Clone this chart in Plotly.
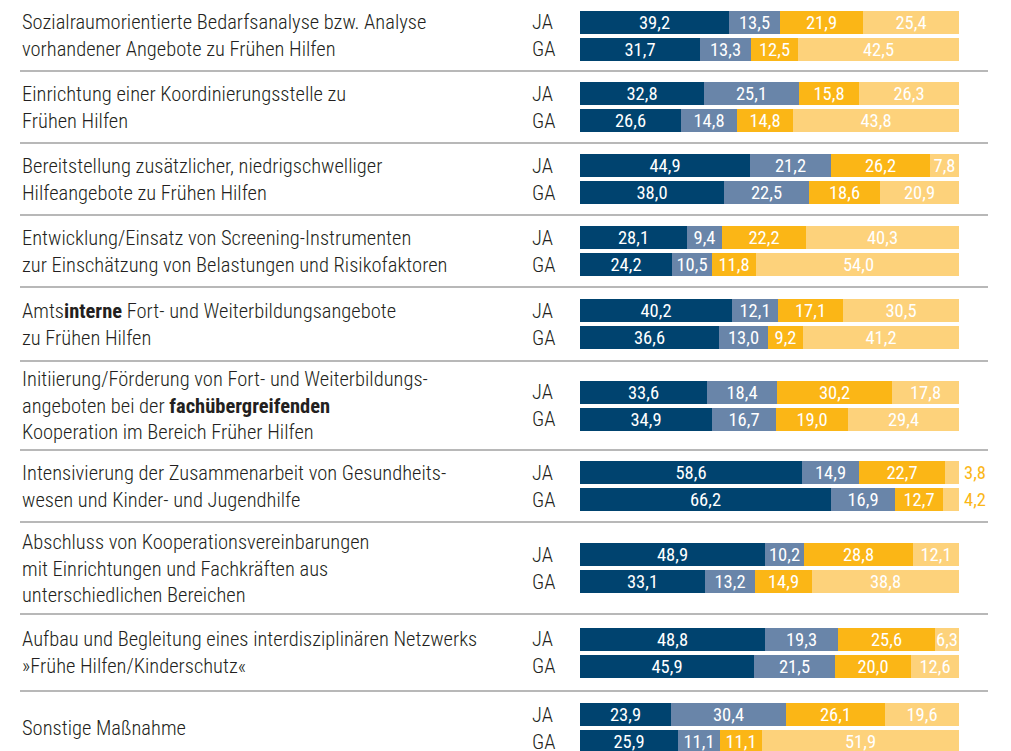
import plotly.graph_objects as go

# ---------------- data ----------------
categories = [
    "Sozialraumorientierte Bedarfsanalyse bzw. Analyse<br>vorhandener Angebote zu Frühen Hilfen",
    "Einrichtung einer Koordinierungsstelle zu<br>Frühen Hilfen",
    "Bereitstellung zusätzlicher, niedrigschwelliger<br>Hilfeangebote zu Frühen Hilfen",
    "Entwicklung/Einsatz von Screening-Instrumenten<br>zur Einschätzung von Belastungen und Risikofaktoren",
    "Amts<b>interne</b> Fort- und Weiterbildungsangebote<br>zu Frühen Hilfen",
    "Initiierung/Förderung von Fort- und Weiterbildungs-<br>angeboten bei der <b>fachübergreifenden</b><br>Kooperation im Bereich Früher Hilfen",
    "Intensivierung der Zusammenarbeit von Gesundheits-<br>wesen und Kinder- und Jugendhilfe",
    "Abschluss von Kooperationsvereinbarungen<br>mit Einrichtungen und Fachkräften aus<br>unterschiedlichen Bereichen",
    "Aufbau und Begleitung eines interdisziplinären Netzwerks<br>»Frühe Hilfen/Kinderschutz«",
    "Sonstige Maßnahme",
]
groups = ["JA", "GA"]

ja_s1 = [39.2, 32.8, 44.9, 28.1, 40.2, 33.6, 58.6, 48.9, 48.8, 23.9]
ja_s2 = [13.5, 25.1, 21.2, 9.4, 12.1, 18.4, 14.9, 10.2, 19.3, 30.4]
ja_s3 = [21.9, 15.8, 26.2, 22.2, 17.1, 30.2, 22.7, 28.8, 25.6, 26.1]
ja_s4 = [25.4, 26.3, 7.8, 40.3, 30.5, 17.8, 3.8, 12.1, 6.3, 19.6]

ga_s1 = [31.7, 26.6, 38.0, 24.2, 36.6, 34.9, 66.2, 33.1, 45.9, 25.9]
ga_s2 = [13.3, 14.8, 22.5, 10.5, 13.0, 16.7, 16.9, 13.2, 21.5, 11.1]
ga_s3 = [12.5, 14.8, 18.6, 11.8, 9.2, 19.0, 12.7, 14.9, 20.0, 11.1]
ga_s4 = [42.5, 43.8, 20.9, 54.0, 41.2, 29.4, 4.2, 38.8, 12.6, 51.9]

# ---------------- layout helpers ----------------
W, H = 1011, 751
colors = ["#00436F", "#6985A9", "#FBB616", "#FDD27B"]
FONT = "Roboto Condensed, Open Sans Condensed Light, Roboto, sans-serif"
text_color = "#231F20"

group_heights = [71, 72, 72, 72, 74, 89, 72, 92, 77, 74]
tops = []
acc = 0
for h in group_heights:
    tops.append(acc)
    acc += h
centers = [t + h / 2 for t, h in zip(tops, group_heights)]
pitch = 27
bar_w = 23

y_pos = []
for c in centers:
    y_pos += [c - pitch / 2, c + pitch / 2]

ja = [ja_s1, ja_s2, ja_s3, ja_s4]
ga = [ga_s1, ga_s2, ga_s3, ga_s4]


def fmt(v):
    return f"{v:.1f}".replace(".", ",")


fig = go.Figure()
small_labels = []
for s in range(4):
    xs, texts = [], []
    for i in range(len(categories)):
        for g, src in enumerate((ja, ga)):
            v = src[s][i]
            xs.append(v)
            if v < 5:
                texts.append("")
                small_labels.append((y_pos[2 * i + g], v))
            else:
                texts.append(fmt(v))
    fig.add_trace(go.Bar(
        x=xs, y=y_pos, orientation="h", width=bar_w,
        marker=dict(color=colors[s], line=dict(width=0)),
        text=texts, textposition="inside", insidetextanchor="middle",
        textangle=0, constraintext="none",
        textfont=dict(family=FONT, size=18.5, color="white"),
        hoverinfo="skip",
    ))

annotations = []
for i, cat in enumerate(categories):
    annotations.append(dict(
        xref="paper", yref="y", x=20 / W, y=centers[i], xanchor="left",
        yanchor="middle", align="left", text=cat, showarrow=False,
        font=dict(family=FONT, size=20.5, color=text_color, weight=300),
    ))
    for g, name in enumerate(groups):
        annotations.append(dict(
            xref="paper", yref="y", x=530 / W, y=y_pos[2 * i + g],
            xanchor="left", yanchor="middle", text=name, showarrow=False,
            font=dict(family=FONT, size=20.5, color=text_color, weight=300),
        ))
for yv, v in small_labels:
    annotations.append(dict(
        xref="x", yref="y", x=100, y=yv, xanchor="left", yanchor="middle",
        xshift=3, text=fmt(v), showarrow=False,
        font=dict(family=FONT, size=18.5, color=colors[2]),
    ))

shapes = []
for t in tops[1:]:
    shapes.append(dict(
        type="line", xref="paper", yref="y", x0=20 / W, x1=988 / W,
        y0=t, y1=t, line=dict(color="#A0A0A0", width=1.5),
    ))

fig.update_layout(
    width=W, height=H, margin=dict(l=0, r=0, t=0, b=0),
    barmode="stack", bargap=0, showlegend=False,
    paper_bgcolor="white", plot_bgcolor="white",
    separators=",.",
    uniformtext=dict(minsize=18, mode="show"),
    xaxis=dict(domain=[580 / W, 959 / W], range=[0, 100], visible=False,
               fixedrange=True),
    yaxis=dict(range=[H, 0], visible=False, fixedrange=True),
    annotations=annotations, shapes=shapes,
)

fig.write_html("out.html", config={"displayModeBar": False},
               post_script="document.body.style.margin='0';")
